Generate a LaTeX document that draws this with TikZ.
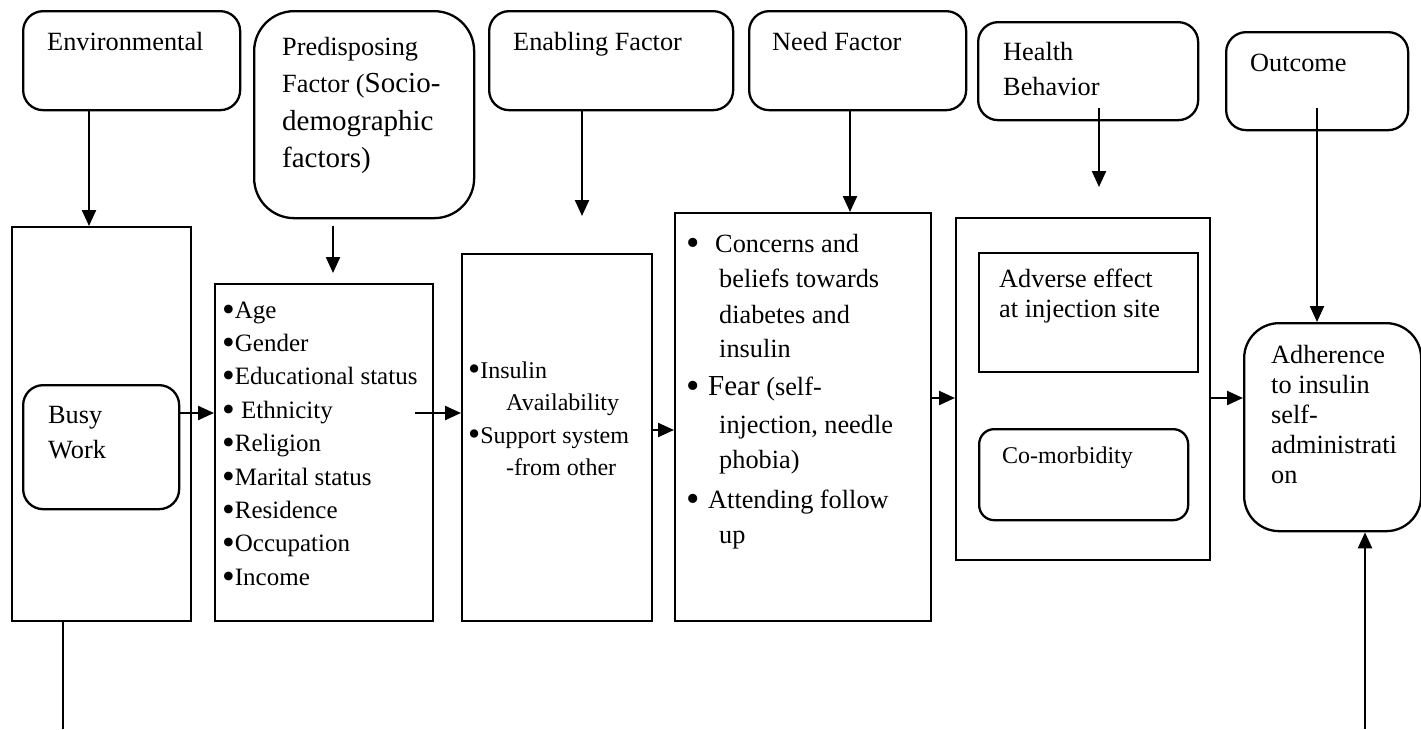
\documentclass[tikz,border=0pt]{standalone}
\usepackage{fontspec}
\setmainfont{Liberation Serif}
\usetikzlibrary{arrows.meta}
\newcommand\mybul{\raisebox{-0.12em}{\scalebox{1.45}{\textbullet}}}
\begin{document}
\begin{tikzpicture}[x=1pt,y=-1pt,
  box/.style={draw, line width=2.3pt, inner sep=0pt, anchor=north west},
  rbox/.style={box, rounded corners=#1},
  arr/.style={-{Triangle[width=14pt,length=16pt]}, line width=2.3pt},
  plain/.style={line width=2.3pt},
  tx/.style={anchor=base west, inner sep=0pt, font=\fontsize{26.3}{30}\selectfont},
  txbig/.style={anchor=base west, inner sep=0pt, font=\fontsize{29}{34}\selectfont},
  txl/.style={anchor=base west, inner sep=0pt, font=\fontsize{25}{30}\selectfont},
  txs/.style={anchor=base west, inner sep=0pt, font=\fontsize{24}{28}\selectfont}]
\useasboundingbox (0,0) rectangle (1421,729);
% header boxes
\node[rbox=20pt, minimum width=217pt, minimum height=99pt] (env) at (22,10) {};
\node[rbox=40pt, minimum width=220pt, minimum height=207pt] (pre) at (253,10) {};
\node[rbox=20pt, minimum width=244pt, minimum height=99pt] (ena) at (488,10) {};
\node[rbox=20pt, minimum width=217pt, minimum height=99pt] (need) at (748,10) {};
\node[rbox=20pt, minimum width=220pt, minimum height=98pt] (hb) at (977,21) {};
\node[rbox=20pt, minimum width=182pt, minimum height=98pt] (out) at (1225,31) {};
% main boxes
\node[box, minimum width=179pt, minimum height=394pt] (envb) at (11,226) {};
\node[rbox=20pt, minimum width=156pt, minimum height=124pt] (busy) at (22,384) {};
\node[box, minimum width=218pt, minimum height=337pt] (pdl) at (214,283) {};
\node[box, minimum width=190pt, minimum height=367pt] (enl) at (461,253) {};
\node[box, minimum width=256pt, minimum height=408pt] (ndl) at (674,212) {};
\node[box, minimum width=254pt, minimum height=342pt] (hbo) at (955,217) {};
\node[box, minimum width=219pt, minimum height=119pt] (adv) at (978,252) {};
\node[rbox=15pt, minimum width=209pt, minimum height=91pt] (com) at (978,428) {};
\node[rbox=35pt, minimum width=177pt, minimum height=208pt] (adh) at (1243,322) {};
% texts
\node[tx] (tenv) at (47,50) {Environmental};
\node[tx] (tpre1) at (282,55) {Predisposing};
\node[tx] (tpre2) at (282,92) {Factor (\fontsize{29}{34}\selectfont Socio-};
\node[txbig] (tpre3) at (282,130) {demographic};
\node[txbig] (tpre4) at (282,167) {factors)};
\node[tx] (tena) at (513,50) {Enabling Factor};
\node[tx] (tneed) at (772,50) {Need Factor};
\node[tx] (thb1) at (1003,60) {Health};
\node[tx] (thb2) at (1003,95) {Behavior};
\node[tx] (tout) at (1250,71) {Outcome};
\node[tx] (tbusy1) at (48,423) {Busy};
\node[tx] (tbusy2) at (48,458) {Work};
\foreach \t [count=\i] in {\mybul Age,\mybul Gender,\mybul Educational status,\mybul{} Ethnicity,\mybul Religion,\mybul Marital status,\mybul Residence,\mybul Occupation,\mybul Income}
  \node[txl] (tpd\i) at (222,{318+33.4*(\i-1)}) {\t};
\node[txs] (ten1) at (468,378) {\mybul Insulin};
\node[txs] (ten2) at (506,410) {Availability};
\node[txs] (ten3) at (468,443) {\mybul Support system};
\node[txs] (ten4) at (506,475) {-from other};
\node[tx] (bn1) at (686,252) {\mybul};
\node[tx] (tn1) at (715,252) {Concerns and};
\node[tx] (tn2) at (719,287) {beliefs towards};
\node[tx] (tn3) at (719,323) {diabetes and};
\node[tx] (tn4) at (719,357) {insulin};
\node[tx] (bn2) at (686,395) {\mybul};
\node[tx] (tn5) at (708,395) {{\fontsize{29}{34}\selectfont Fear} (self-};
\node[tx] (tn6) at (719,433) {injection, needle};
\node[tx] (tn7) at (719,468) {phobia)};
\node[tx] (bn3) at (686,508) {\mybul};
\node[tx] (tn8) at (708,508) {Attending follow};
\node[tx] (tn9) at (719,543) {up};
\node[tx] (tadv1) at (999,287) {Adverse effect};
\node[tx] (tadv2) at (999,317) {at injection site};
\node[txs] (tcom) at (1002,463) {Co-morbidity};
\node[tx] (tad1) at (1271,363) {Adherence};
\node[tx] (tad2) at (1271,393) {to insulin};
\node[tx] (tad3) at (1271,423) {self-};
\node[tx] (tad4) at (1271,453) {administrati};
\node[tx] (tad5) at (1271,483) {on};
% helper coordinates
\coordinate (x89) at (89,0);
\coordinate (preA) at (333,226);
\coordinate (preB) at (333,273);
\coordinate (x582) at (582,0);
\coordinate (enaB) at (582,216);
\coordinate (x850) at (850,0);
\coordinate (hbA) at (1099,108);
\coordinate (hbB) at (1099,187);
\coordinate (outA) at (1317,108);
\coordinate (y413) at (0,413);
\coordinate (pdlA) at (415,413);
\coordinate (y430) at (0,430);
\coordinate (y398) at (0,398);
\coordinate (botL) at (63,729);
\coordinate (x63) at (63,0);
\coordinate (botR) at (1365,729);
% connectors
\draw[arr] (x89 |- env.south) -- (x89 |- envb.north);
\draw[arr] (preA) -- (preB);
\draw[arr] (x582 |- ena.south) -- (enaB);
\draw[arr] (x850 |- need.south) -- (x850 |- ndl.north);
\draw[arr] (hbA) -- (hbB);
\draw[arr] (outA) -- (outA |- adh.north);
\draw[arr] (busy.east |- y413) -- (pdl.west |- y413);
\draw[arr] (pdlA) -- (enl.west |- y413);
\draw[arr] (enl.east |- y430) -- (ndl.west |- y430);
\draw[arr] (ndl.east |- y398) -- (hbo.west |- y398);
\draw[arr] (hbo.east |- y398) -- (adh.west |- y398);
\draw[plain] (x63 |- envb.south) -- (botL);
\draw[arr] (botR) -- (botR |- adh.south);
\end{tikzpicture}
\end{document}
